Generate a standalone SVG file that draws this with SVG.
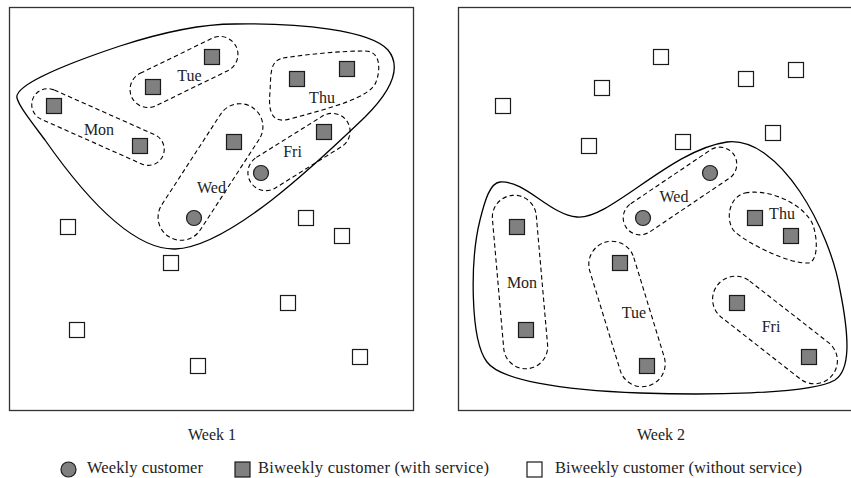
<svg xmlns="http://www.w3.org/2000/svg" width="851" height="478" viewBox="0 0 851 478">
<style>
.frame{fill:none;stroke:#333;stroke-width:1.3}
.region{fill:none;stroke:#000;stroke-width:1.3}
.route{fill:none;stroke:#000;stroke-width:1.1;stroke-dasharray:4.5,3}
.sq{fill:#808080;stroke:#1a1a1a;stroke-width:1.2}
.wsq{fill:#fff;stroke:#1a1a1a;stroke-width:1.2}
.ci{fill:#808080;stroke:#1a1a1a;stroke-width:1.2}
text{font-family:"Liberation Serif","DejaVu Serif",serif;font-size:16px;fill:#222}
.lbl{text-anchor:middle}
.leg{font-size:16.5px}
</style>
<defs>
<rect id="s" x="-7.5" y="-7.5" width="15" height="15"/>
</defs>

<!-- Panel 1 -->
<g id="week1">
<rect class="frame" x="9.5" y="7.5" width="404" height="403"/>
<path class="region" d="M17,98 C14,86 60,66 120,46 C160,33 200,24 235,24 C300,23 370,30 388,50 C402,67 392,90 365,117 C320,160 230,247 175,249 C130,250 80,190 45,140 C30,120 19,106 17,98 Z"/>
</g>
<g id="w1-routes">
<g id="w1-mon"><rect class="route" x="-71" y="-16" width="142" height="32" rx="16" transform="translate(98,127) rotate(24)"/><text class="lbl" x="99" y="135">Mon</text></g>
<g id="w1-tue"><rect class="route" x="-58" y="-18" width="116" height="36" rx="18" transform="translate(184,72) rotate(-26)"/><text class="lbl" x="189.5" y="81">Tue</text></g>
<g id="w1-thu"><path class="route" d="M283,58 C310,54 340,51 365,51 C382,51 380,72 376,82 C370,98 330,108 290,119 C272,124 268,112 270,92 C271,72 270,61 283,58 Z"/><text class="lbl" x="322" y="103">Thu</text></g>
<g id="w1-wed"><rect class="route" x="-77" y="-23" width="154" height="46" rx="23" transform="translate(210.5,172) rotate(123)"/><text class="lbl" x="211.5" y="193">Wed</text></g>
<g id="w1-fri"><rect class="route" x="-57" y="-18" width="114" height="36" rx="18" transform="translate(299,152) rotate(-32)"/><text class="lbl" x="292.5" y="157">Fri</text></g>
</g>
<g id="w1-customers">
<use href="#s" class="sq" x="54" y="106"/>
<use href="#s" class="sq" x="140" y="146"/>
<use href="#s" class="sq" x="153" y="87"/>
<use href="#s" class="sq" x="212" y="57"/>
<use href="#s" class="sq" x="297" y="79"/>
<use href="#s" class="sq" x="347" y="69"/>
<use href="#s" class="sq" x="234" y="142"/>
<use href="#s" class="sq" x="324" y="132"/>
<circle class="ci" cx="261" cy="173" r="7.5"/>
<circle class="ci" cx="194" cy="218" r="7.5"/>
<use href="#s" class="wsq" x="68" y="227"/>
<use href="#s" class="wsq" x="306" y="218"/>
<use href="#s" class="wsq" x="342" y="236"/>
<use href="#s" class="wsq" x="171" y="263"/>
<use href="#s" class="wsq" x="288" y="303"/>
<use href="#s" class="wsq" x="77" y="330"/>
<use href="#s" class="wsq" x="198" y="366"/>
<use href="#s" class="wsq" x="360" y="357"/>
</g>
<text class="lbl" x="212" y="440">Week 1</text>

<!-- Panel 2 -->
<g id="week2">
<rect class="frame" x="458.5" y="7.5" width="404" height="403"/>
<path class="region" d="M500,182 C525,180 550,215 577,217 C610,220 670,150 727,142 C780,136 830,230 840,290 C850,340 850,370 835,380 C810,395 700,395 640,393 C560,390 500,380 487,362 C470,340 470,260 480,220 C485,200 490,183 500,182 Z"/>
</g>
<g id="w2-routes">
<g id="w2-wed"><rect class="route" x="-65" y="-17" width="130" height="34" rx="17" transform="translate(680,191) rotate(-34)"/><text class="lbl" x="674" y="202">Wed</text></g>
<g id="w2-thu"><path class="route" d="M745,193 C770,188 805,205 813,225 C818,240 818,262 808,263 C790,264 750,245 735,232 C725,222 728,197 745,193 Z"/><text class="lbl" x="782" y="219">Thu</text></g>
<g id="w2-mon"><rect class="route" x="-87" y="-22" width="174" height="44" rx="22" transform="translate(520,282) rotate(85)"/><text class="lbl" x="522" y="288">Mon</text></g>
<g id="w2-tue"><rect class="route" x="-75" y="-23" width="150" height="46" rx="23" transform="translate(627,314) rotate(73)"/><text class="lbl" x="634" y="318">Tue</text></g>
<g id="w2-fri"><rect class="route" x="-73" y="-23" width="146" height="46" rx="23" transform="translate(775,330) rotate(38)"/><text class="lbl" x="771" y="332">Fri</text></g>
</g>
<g id="w2-customers">
<use href="#s" class="wsq" x="661" y="57"/>
<use href="#s" class="wsq" x="602" y="88"/>
<use href="#s" class="wsq" x="503" y="106"/>
<use href="#s" class="wsq" x="746" y="79"/>
<use href="#s" class="wsq" x="796" y="70"/>
<use href="#s" class="wsq" x="589" y="146"/>
<use href="#s" class="wsq" x="683" y="142"/>
<use href="#s" class="wsq" x="773" y="133"/>
<circle class="ci" cx="710" cy="173" r="7.5"/>
<circle class="ci" cx="643" cy="218" r="7.5"/>
<use href="#s" class="sq" x="755" y="218"/>
<use href="#s" class="sq" x="791" y="236"/>
<use href="#s" class="sq" x="517" y="227"/>
<use href="#s" class="sq" x="526" y="330"/>
<use href="#s" class="sq" x="620" y="263"/>
<use href="#s" class="sq" x="647" y="366"/>
<use href="#s" class="sq" x="737" y="303"/>
<use href="#s" class="sq" x="809" y="357"/>
</g>
<text class="lbl" x="661" y="440">Week 2</text>

<!-- Legend -->
<g id="legend">
<circle class="ci" cx="68.5" cy="469.5" r="7.5"/>
<text class="leg" x="87" y="473" textLength="116">Weekly customer</text>
<use href="#s" class="sq" x="242.5" y="469.5"/>
<text class="leg" x="258" y="473" textLength="231">Biweekly customer (with service)</text>
<use href="#s" class="wsq" x="534.5" y="469.5"/>
<text class="leg" x="555" y="473" textLength="247">Biweekly customer (without service)</text>
</g>
</svg>
